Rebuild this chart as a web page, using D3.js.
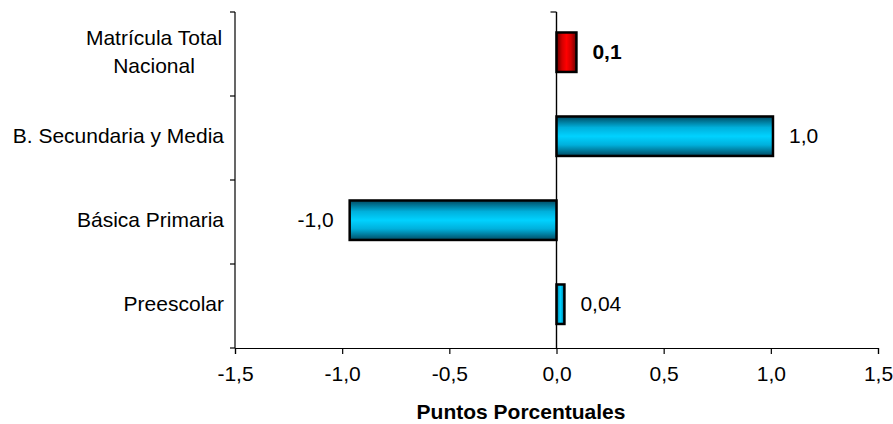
<!DOCTYPE html>
<html>
<head>
<meta charset="utf-8">
<script src="https://cdn.jsdelivr.net/npm/d3@7"></script>
<style>
  html, body { margin: 0; padding: 0; background: #fff; }
  svg { display: block; font-family: "Liberation Sans", Arial, sans-serif; }
</style>
</head>
<body>
<svg id="chart" width="893" height="424"></svg>
<script>
// ---- data ----
const categories = ["Matrícula Total\nNacional", "B. Secundaria y Media", "Básica Primaria", "Preescolar"];
const values = [0.093, 1.01, -0.965, 0.037];
const valueLabels = ["0,1", "1,0", "-1,0", "0,04"];
const highlight = [true, false, false, false];
const xTicks = [-1.5, -1.0, -0.5, 0.0, 0.5, 1.0, 1.5];
const xTickLabels = ["-1,5", "-1,0", "-0,5", "0,0", "0,5", "1,0", "1,5"];
const axisTitle = "Puntos Porcentuales";

// ---- layout ----
const svg = d3.select("#chart");
const pLeft = 235, pRight = 878, pTop = 12, pBottom = 348;
const fs = 21;

const x = d3.scaleLinear().domain([-1.5, 1.5]).range([pLeft, pRight]);
const y = d3.scaleBand().domain(categories).range([pTop, pBottom])
  .paddingInner(0.53).paddingOuter(0.265).align(0.46);

// gradients
const defs = svg.append("defs");
function grad(id, dir, edge, mid, center) {
  const g = defs.append("linearGradient").attr("id", id)
    .attr("x1", "0").attr("y1", "0")
    .attr("x2", dir === "h" ? "1" : "0").attr("y2", dir === "h" ? "0" : "1");
  [[0, edge], [0.28, mid], [0.5, center], [0.72, mid], [1, edge]].forEach(([o, c]) =>
    g.append("stop").attr("offset", o).attr("stop-color", c));
}
grad("blueV", "v", "#004a62", "#00b0dc", "#00d2ff");
grad("blueH", "h", "#004a62", "#00b0dc", "#00d2ff");
grad("redV", "v", "#6a0000", "#d40000", "#ff0000");
grad("redH", "h", "#6a0000", "#d40000", "#ff0000");

// left category axis
svg.append("line").attr("x1", pLeft).attr("x2", pLeft).attr("y1", pTop).attr("y2", pBottom)
  .attr("stroke", "#000").attr("stroke-width", 1.2);
const boundaries = d3.range(categories.length + 1).map(i => pTop + i * y.step());
boundaries.forEach(yy => {
  svg.append("line").attr("x1", pLeft - 5).attr("x2", pLeft).attr("y1", yy).attr("y2", yy)
    .attr("stroke", "#000").attr("stroke-width", 1.2);
});

// bottom axis
const xAxis = d3.axisBottom(x).tickValues(xTicks)
  .tickFormat((d, i) => xTickLabels[i]).tickSize(6).tickPadding(12);
const gx = svg.append("g").attr("transform", `translate(0,${pBottom})`).call(xAxis);
gx.select(".domain").attr("stroke", "#000").attr("stroke-width", 1.2);
gx.selectAll(".tick line").attr("stroke", "#000").attr("stroke-width", 1.2);
gx.selectAll(".tick text").attr("font-size", fs).attr("fill", "#000")
  .attr("font-family", "Liberation Sans, Arial, sans-serif");

// zero line
svg.append("line").attr("x1", x(0)).attr("x2", x(0)).attr("y1", pTop).attr("y2", pBottom)
  .attr("stroke", "#000").attr("stroke-width", 1.4);
svg.append("line").attr("x1", x(0) - 6).attr("x2", x(0)).attr("y1", pTop).attr("y2", pTop)
  .attr("stroke", "#000").attr("stroke-width", 1.2);

// bars
categories.forEach((c, i) => {
  const v = values[i];
  const x0 = x(Math.min(0, v)), x1 = x(Math.max(0, v));
  const w = x1 - x0;
  const dir = w < y.bandwidth() ? "H" : "V";
  const fill = `url(#${highlight[i] ? "red" : "blue"}${dir})`;
  svg.append("rect").attr("x", x0).attr("y", y(c)).attr("width", w).attr("height", y.bandwidth())
    .attr("fill", fill).attr("stroke", "#000").attr("stroke-width", 2.5);
  const cy = y(c) + y.bandwidth() / 2;
  svg.append("text")
    .attr("x", v >= 0 ? x1 + 16 : x0 - 16)
    .attr("y", cy + 7)
    .attr("text-anchor", v >= 0 ? "start" : "end")
    .attr("font-size", fs)
    .attr("font-weight", highlight[i] ? "bold" : "normal")
    .attr("fill", "#000")
    .text(valueLabels[i]);
});

// category labels
categories.forEach((c, i) => {
  const lines = c.split("\n");
  const cy = y(c) + y.bandwidth() / 2;
  if (lines.length === 1) {
    svg.append("text").attr("x", pLeft - 11).attr("y", cy + 7)
      .attr("text-anchor", "end").attr("font-size", fs).attr("fill", "#000").text(c);
  } else {
    const t = svg.append("text").attr("text-anchor", "middle").attr("font-size", fs).attr("fill", "#000");
    lines.forEach((ln, j) => {
      t.append("tspan").attr("x", 154).attr("y", cy + 7 + (j - (lines.length - 1) / 2) * 28)
        .text(ln);
    });
  }
});

// axis title
svg.append("text").attr("x", 521).attr("y", 419).attr("text-anchor", "middle")
  .attr("font-size", fs).attr("font-weight", "bold").attr("fill", "#000").text(axisTitle);
</script>
</body>
</html>
